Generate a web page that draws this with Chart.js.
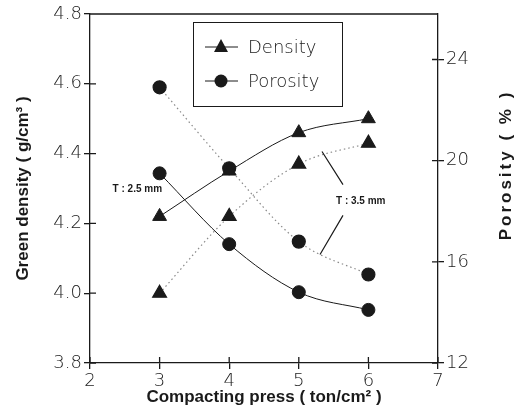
<!DOCTYPE html>
<html>
<head>
<meta charset="utf-8">
<script src="https://cdn.jsdelivr.net/npm/chart.js@4.4.0/dist/chart.umd.min.js"></script>
<style>
  html, body { margin: 0; padding: 0; background: #fff; }
  #wrap { width: 521px; height: 419px; }
</style>
</head>
<body>
<div id="wrap"><canvas id="chart" width="521" height="419"></canvas></div>
<script>
// compacting press (ton/cm2)
const press = [3, 4, 5, 6];
// green density (g/cm3)
const density25 = [4.22, 4.35, 4.46, 4.50];
const density35 = [4.00, 4.22, 4.37, 4.43];
// porosity (%)
const porosity25 = [19.5, 16.7, 14.8, 14.1];
const porosity35 = [22.9, 19.7, 16.8, 15.5];

const xTicks = [2, 3, 4, 5, 6, 7];
const densityTicks = [3.8, 4.0, 4.2, 4.4, 4.6, 4.8];
const porosityTicks = [12, 16, 20, 24];

const INK = "#1a1a1a";
const THIN = "'DejaVu Sans', 'Liberation Sans', sans-serif";
const BOLD = "'Liberation Sans', Arial, sans-serif";

function pts(ys) {
    return press.map((x, i) => ({ x: x, y: ys[i] }));
}

function fixTicks(list) {
    return scale => { scale.ticks = list.map(v => ({ value: v })); };
}

// ticks that cross the axis, frame on top, legend, labels
const decor = {
    id: "decor",
    afterDraw(chart) {
        const ctx = chart.ctx;
        const a = chart.chartArea;
        const sx = chart.scales.x, sy = chart.scales.y, sy2 = chart.scales.y2;
        ctx.save();
        ctx.strokeStyle = INK;
        ctx.lineWidth = 1.3;
        ctx.beginPath();
        ctx.moveTo(a.left, a.top);
        ctx.lineTo(a.right, a.top);
        xTicks.forEach(v => {
            const p = sx.getPixelForValue(v);
            ctx.moveTo(p, a.bottom); ctx.lineTo(p, a.bottom - 6);
        });
        densityTicks.forEach(v => {
            const p = sy.getPixelForValue(v);
            ctx.moveTo(a.left, p); ctx.lineTo(a.left + 6, p);
        });
        porosityTicks.forEach(v => {
            const p = sy2.getPixelForValue(v);
            ctx.moveTo(a.right, p); ctx.lineTo(a.right - 6, p);
        });
        ctx.stroke();

        // legend
        const bx = 193, by = 22, bw = 149, bh = 84;
        ctx.lineWidth = 1;
        ctx.strokeRect(bx + 0.5, by + 0.5, bw, bh);
        const rows = [["Density", "triangle", 47], ["Porosity", "circle", 81]];
        ctx.font = "200 18px " + THIN;
        ctx.textBaseline = "middle";
        ctx.fillStyle = INK;
        rows.forEach(r => {
            const y = r[2];
            ctx.beginPath();
            ctx.moveTo(205, y); ctx.lineTo(238, y);
            ctx.stroke();
            ctx.beginPath();
            if (r[1] === "circle") {
                ctx.arc(221, y, 6.5, 0, Math.PI * 2);
            } else {
                ctx.moveTo(221, y - 8); ctx.lineTo(228, y + 5); ctx.lineTo(214, y + 5);
                ctx.closePath();
            }
            ctx.fill();
            ctx.fillText(r[0], 248, y + 1);
        });

        // T labels and leader lines
        ctx.font = "bold 10px " + BOLD;
        ctx.textAlign = "center";
        ctx.fillText("T : 2.5 mm", sx.getPixelForValue(2.68), sy.getPixelForValue(4.297));
        ctx.fillText("T : 3.5 mm", sx.getPixelForValue(5.89), sy.getPixelForValue(4.263));
        ctx.lineWidth = 1.2;
        ctx.beginPath();
        ctx.moveTo(sx.getPixelForValue(5.333), sy.getPixelForValue(4.406));
        ctx.lineTo(sx.getPixelForValue(5.635), sy.getPixelForValue(4.311));
        ctx.moveTo(sx.getPixelForValue(5.635), sy.getPixelForValue(4.223));
        ctx.lineTo(sx.getPixelForValue(5.305), sy.getPixelForValue(4.111));
        ctx.stroke();

        // right axis title, reading upward
        ctx.translate(506, 165);
        ctx.rotate(-Math.PI / 2);
        ctx.font = "bold 17px " + BOLD;
        ctx.letterSpacing = "3px";
        ctx.fillText("Porosity ( % )", 0, 0);
        ctx.restore();
    }
};

const solid = { borderColor: INK, borderWidth: 1, backgroundColor: INK, pointBorderColor: INK };
const dotted = { borderColor: "#8a8a8a", borderWidth: 1.2, borderDash: [1.5, 3], backgroundColor: INK, pointBorderColor: INK };
const tickFont = { family: THIN, size: 18, weight: 200 };

new Chart(document.getElementById("chart"), {
    type: "line",
    data: {
        datasets: [
            { label: "Density T2.5", data: pts(density25), yAxisID: "y", pointStyle: "triangle", pointRadius: 8, ...solid },
            { label: "Density T3.5", data: pts(density35), yAxisID: "y", pointStyle: "triangle", pointRadius: 8, ...dotted },
            { label: "Porosity T2.5", data: pts(porosity25), yAxisID: "y2", pointStyle: "circle", pointRadius: 6.5, ...solid },
            { label: "Porosity T3.5", data: pts(porosity35), yAxisID: "y2", pointStyle: "circle", pointRadius: 6.5, ...dotted }
        ]
    },
    options: {
        responsive: false,
        animation: false,
        layout: { padding: { top: 14, left: 0, right: 0, bottom: 0 } },
        elements: { line: { cubicInterpolationMode: "monotone", fill: false } },
        plugins: { legend: { display: false }, tooltip: { enabled: false } },
        scales: {
            x: {
                type: "linear", position: "bottom", min: 2, max: 7,
                afterBuildTicks: fixTicks(xTicks),
                afterFit: s => { s.height = 56; },
                grid: { drawOnChartArea: false, tickLength: 6, color: INK, lineWidth: 1.3 },
                border: { color: INK, width: 1.3 },
                ticks: { color: INK, font: tickFont, padding: 2 },
                title: { display: true, text: "Compacting press ( ton/cm² )", color: INK,
                         font: { family: BOLD, size: 17, weight: "bold" }, padding: { top: 0, bottom: 11 } }
            },
            y: {
                position: "left", min: 3.8, max: 4.8,
                afterBuildTicks: fixTicks(densityTicks),
                afterFit: s => { s.width = 90; },
                grid: { drawOnChartArea: false, tickLength: 6, color: INK, lineWidth: 1.3 },
                border: { color: INK, width: 1.3 },
                ticks: { color: INK, font: tickFont, padding: 2, callback: v => v.toFixed(1) },
                title: { display: true, text: "Green density ( g/cm³ )", color: INK,
                         font: { family: BOLD, size: 17, weight: "bold" }, padding: { top: 13, bottom: 0 } }
            },
            y2: {
                position: "right", min: 12, max: 25.8,
                afterBuildTicks: fixTicks(porosityTicks),
                afterFit: s => { s.width = 83; },
                grid: { drawOnChartArea: false, tickLength: 6, color: INK, lineWidth: 1.3 },
                border: { color: INK, width: 1.3 },
                ticks: { color: INK, font: tickFont, padding: 2 }
            }
        }
    },
    plugins: [decor]
});
</script>
</body>
</html>
